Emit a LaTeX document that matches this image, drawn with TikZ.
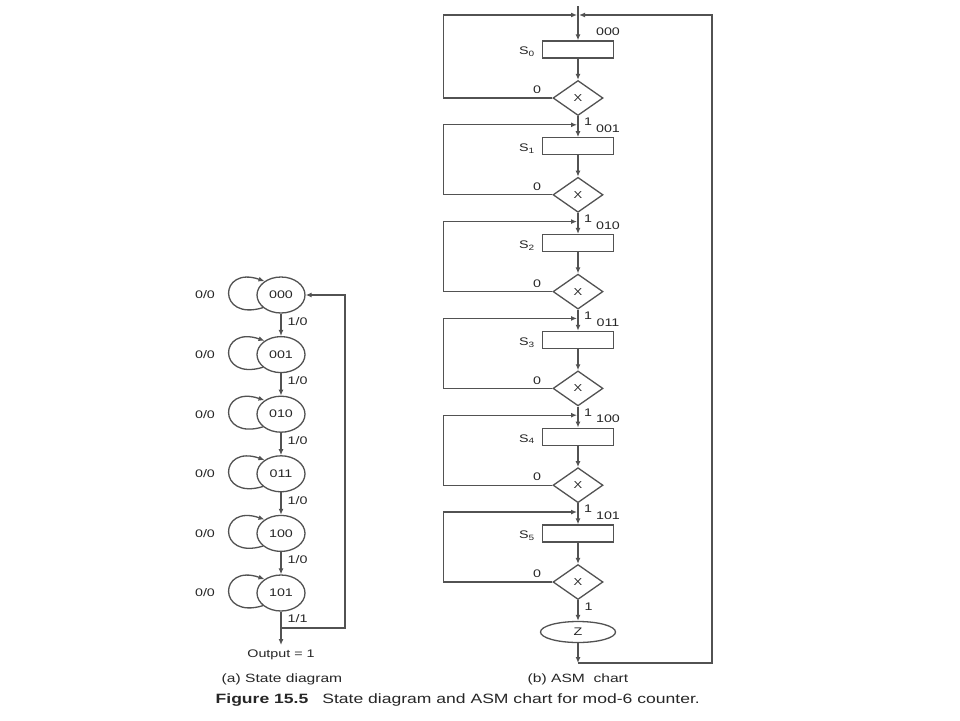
\documentclass[tikz,border=0pt]{standalone}
\usepackage{fontspec}
\setmainfont{Liberation Sans}[FakeStretch=1.3]
\usetikzlibrary{shapes.geometric,arrows.meta,calc}
\begin{document}
\begin{tikzpicture}[x=1pt,y=-1pt,
  line width=1.3pt, color=black!68,
  arr/.style={-{Latex[length=6pt,width=5pt]}},
  txt/.style={font=\fontsize{11}{13}\selectfont, text=black!85, inner sep=0pt},
  st/.style={ellipse, draw, minimum width=48pt, minimum height=36pt, inner sep=0pt, font=\fontsize{11}{13}\selectfont, text=black!85},
  sbox/.style={rectangle, draw, minimum width=71pt, minimum height=17pt, inner sep=0pt},
  dia/.style={diamond, draw, minimum width=50pt, minimum height=35pt, inner sep=0pt, font=\fontsize{10}{12}\selectfont, text=black!85},
  captxt/.style={font=\fontsize{12}{14}\selectfont, text=black!85, inner sep=0pt}]
\useasboundingbox[fill=white,draw=none] (0,0) rectangle (960,720);

% ---------- (a) state diagram ----------
\foreach \i/\t in {0/000,1/001,2/010,3/011,4/100,5/101}{
  \node[st] (c\i) at (281,{295+59.6*\i}) {\t};
  \node[txt] (l\i) at (205,{295+59.6*\i}) {0/0};
  \draw[arr] (c\i.215) .. controls +(-46,14) and +(-46,-16) .. (c\i.140);
}
\foreach \i/\j in {0/1,1/2,2/3,3/4,4/5}{
  \draw[arr] (c\i) -- node[txt,pos=0.35,anchor=west,xshift=6pt]{1/0} (c\j);
}
\coordinate (jn) at (281,628);
\coordinate (jr) at (345,628);
\coordinate (out) at (281,645);
\draw (c5) -- node[txt,pos=0.45,anchor=west,xshift=6pt]{1/1} (jn);
\draw[arr] (jn) -- (out);
\node[txt,anchor=north] (otext) at (281,649) {Output = 1};
\draw[arr] (jn) -- (jr) |- (c0.east);

% ---------- (b) ASM chart ----------
\coordinate (e0) at (578,15);
\coordinate (top) at (578,6);
\foreach \i in {1,...,5}{ \coordinate (e\i) at (578,{28+96.8*\i}); }
\foreach \i in {0,...,5}{
  \node[sbox] (s\i) at (578,{49.5+96.8*\i}) {};
  \node[txt] (sl\i) at (527,{52+96.8*\i}) {S\textsubscript{\i}};
  \node[dia] (d\i) at (578,{98+96.8*\i}) {X};
  \node[txt] (zl\i) at (537,{90+96.8*\i}) {0};
  \draw[arr] (e\i) -- (s\i);
  \draw[arr] (s\i) -- (d\i);
}
\foreach \i/\c in {0/000,1/001,2/010,3/011,4/100,5/101}{
  \node[txt] (code\i) at (608,{32+96.8*\i}) {\c};
}
\foreach \i/\j in {0/1,1/2,2/3,3/4,4/5}{
  \draw (d\i) -- (e\j);
  \node[txt] (one\i) at (588,{122+96.8*\i}) {1};
  \draw[arr,shorten >=1pt] (d\j.west) -- ++(-109,0) |- (e\j);
}
\draw[arr,shorten >=1pt] (d0.west) -- ++(-109,0) |- (e0);
\draw (top) -- (e0);

\node[ellipse, draw, minimum width=75pt, minimum height=21pt, inner sep=0pt, font=\fontsize{11}{13}\selectfont, text=black!85] (z) at (578,632) {Z};
\draw[arr] (d5) -- node[txt,pos=0.3,anchor=west,xshift=6pt]{1} (z);
\coordinate (bl) at (578,663);
\coordinate (br) at (712,663);
\draw[arr] (z) -- (bl);
\draw[arr,shorten >=1pt] (bl) -- (br) |- (e0);

% ---------- captions ----------
\node[captxt] (capa) at (282,679) {(a) State diagram};
\node[captxt] (capb) at (578,679) {(b) ASM\ \ chart};
\node[font=\fontsize{13.5}{16}\selectfont, text=black!85, inner sep=0pt, anchor=west] (fig) at (215,700) {\textbf{Figure 15.5}\hspace{14pt}State diagram and ASM chart for mod-6 counter.};
\end{tikzpicture}
\end{document}
